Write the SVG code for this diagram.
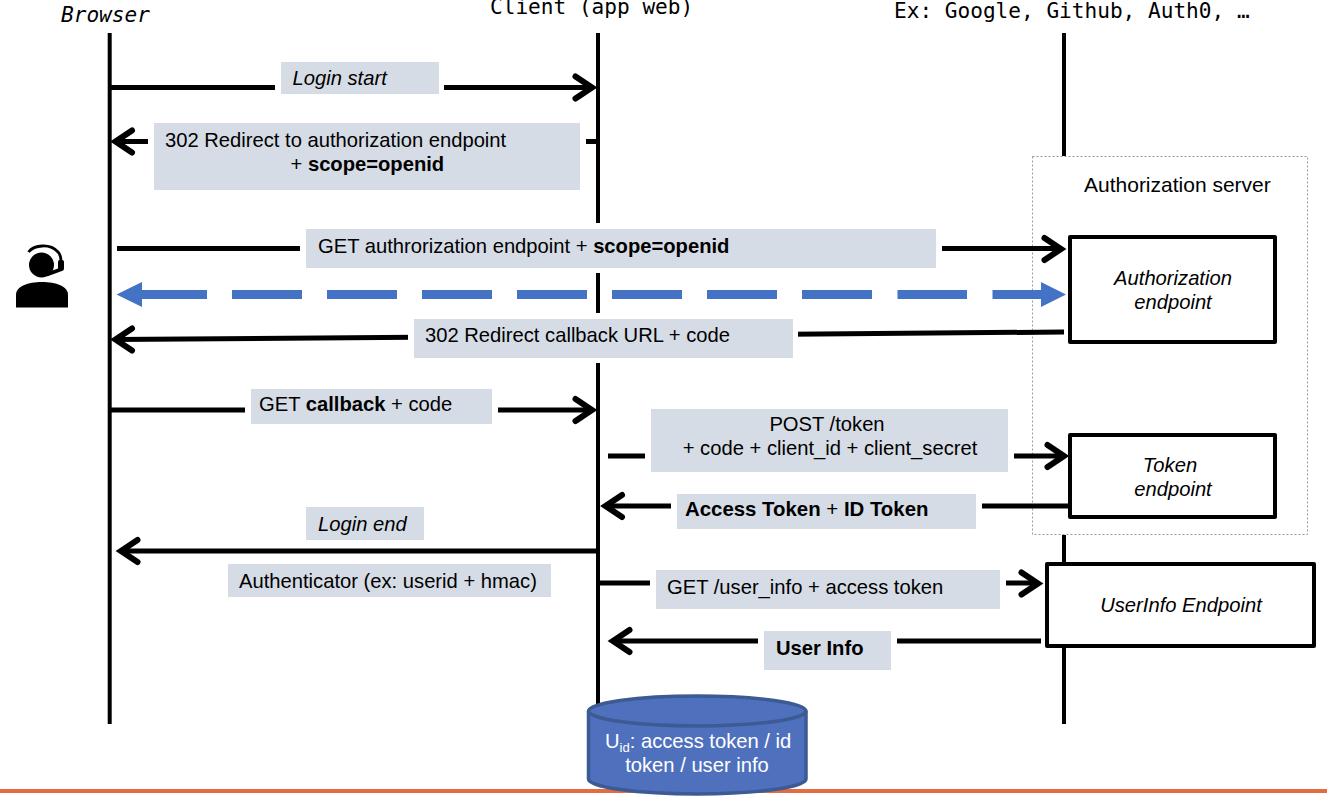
<svg xmlns="http://www.w3.org/2000/svg" width="1327" height="801" viewBox="0 0 1327 801">
<style>
text{font-family:"Liberation Sans",Arial,sans-serif;font-size:20.2px;fill:#000}
.m{font-family:"DejaVu Sans Mono","Liberation Mono",monospace;font-size:21.1px}
.i{font-style:italic}
.b{font-weight:bold}
.c{text-anchor:middle}
.l{fill:#d6dce5}
.w{stroke:#000;stroke-width:5;fill:none}
.life{stroke:#000;stroke-width:4;fill:none}
.h{stroke:#000;stroke-width:6;fill:none;stroke-linecap:round;stroke-linejoin:miter;stroke-miterlimit:10}
.box{fill:#fff;stroke:#000;stroke-width:4;stroke-linejoin:round}
</style>
<defs>
<path id="ah" class="h" d="M-21.500-11L-5 0L-21.500 11"/>
</defs>
<rect width="1327" height="801" fill="#fff"/>
<g id="lifelines">
<line class="life" x1="109.700" y1="33" x2="109.700" y2="724"/>
<line class="life" x1="598" y1="33" x2="598" y2="710"/>
<line class="life" x1="1064" y1="33" x2="1064" y2="156"/>
<line class="life" x1="1064" y1="535" x2="1064" y2="724"/>
</g>
<g id="bottom-rule"><rect x="0" y="789" width="1327" height="4" fill="#e46c42"/></g>
<g id="headers">
<text class="m i" x="61" y="22">Browser</text>
<text class="m" x="490" y="14">Client (app web)</text>
<text class="m" x="894" y="18">Ex: Google, Github, Auth0, …</text>
</g>
<g id="authorization-server">
<rect x="1032.500" y="156.500" width="275" height="378" fill="#fff" stroke="#9a9a9a" stroke-width="1" stroke-dasharray="2 2"/>
<text x="1084" y="192" style="font-size:21px">Authorization server</text>
</g>
<g id="connectors">
<path class="w" d="M110 87.500H592"/><use href="#ah" transform="translate(597 87.500)"/>
<path class="w" d="M115 141.500H598"/><use href="#ah" transform="translate(110.500 141.500) scale(-1 1)"/>
<path class="w" d="M117 248.500H1061"/><use href="#ah" transform="translate(1066 249)"/>
<path class="w" d="M115 339.500L1064 332"/><use href="#ah" transform="translate(110.500 339.500) scale(-1 1)"/>
<path class="w" d="M110 410H592"/><use href="#ah" transform="translate(597 410)"/>
<path class="w" d="M608 456H1064"/><use href="#ah" transform="translate(1069 456)"/>
<path class="w" d="M605 506H1069"/><use href="#ah" transform="translate(600.500 506) scale(-1 1)"/>
<path class="w" d="M121 551H598"/><use href="#ah" transform="translate(116 551) scale(-1 1)"/>
<path class="w" d="M598 583H1038"/><use href="#ah" transform="translate(1043 583.500)"/>
<path class="w" d="M613 641H1041"/><use href="#ah" transform="translate(608 641) scale(-1 1)"/>
<path d="M136 294.500h71M232 294.500h70M327 294.500h70M422 294.500h70M517 294.500h70M612 294.500h70M707 294.500h70M802 294.500h70M897.500 294.500h69.500M992.500 294.500h50" stroke="#4472c4" stroke-width="9" fill="none"/>
<path d="M116.500 294.500l25.500-12.500v25zM1066 294.500l-25-12.500v25z" fill="#4472c4"/>
</g>
<g id="msg-login-start"><rect x="275" y="60" width="169" height="36" fill="#fff"/><rect class="l" x="281" y="62" width="158" height="32"/><text class="i" x="292.500" y="85">Login start</text></g>
<g id="msg-redirect"><rect x="148" y="121" width="438" height="71" fill="#fff"/><rect class="l" x="154" y="123" width="426" height="67"/><text x="165" y="147">302 Redirect to authorization endpoint</text><text x="290.500" y="171">+ <tspan class="b">scope=openid</tspan></text></g>
<g id="msg-get-auth"><rect x="300" y="223" width="642" height="50" fill="#fff"/><rect class="l" x="306" y="229" width="630" height="39"/><text x="318" y="253">GET authrorization endpoint + <tspan class="b">scope=openid</tspan></text></g>
<g id="msg-callback-url"><rect x="408" y="313" width="390" height="50" fill="#fff"/><rect class="l" x="414" y="319" width="379" height="39"/><text x="425" y="342">302 Redirect callback URL + code</text></g>
<g id="msg-get-callback"><rect x="245" y="387" width="253" height="39" fill="#fff"/><rect class="l" x="251" y="389" width="241" height="35"/><text x="259" y="411">GET <tspan class="b">callback</tspan> + code</text></g>
<g id="msg-post-token"><rect x="645" y="407" width="369" height="67" fill="#fff"/><rect class="l" x="651" y="409" width="357" height="63"/><text class="c" x="827" y="431">POST /token</text><text class="c" x="830" y="455">+ code + client_id + client_secret</text></g>
<g id="msg-tokens"><rect x="671" y="492" width="311" height="39" fill="#fff"/><rect class="l" x="677" y="494" width="299" height="35"/><text x="685" y="516" style="font-size:20.400px"><tspan class="b">Access Token</tspan> + <tspan class="b">ID Token</tspan></text></g>
<g id="msg-login-end"><rect class="l" x="306" y="507" width="118" height="33"/><text class="i" x="318" y="531">Login end</text></g>
<g id="msg-authenticator"><rect class="l" x="228" y="564" width="323" height="33"/><text x="239" y="588">Authenticator (ex: userid + hmac)</text></g>
<g id="msg-userinfo"><rect x="650" y="568" width="356" height="43" fill="#fff"/><rect class="l" x="656" y="570" width="344" height="39"/><text x="667" y="594">GET /user_info + access token</text></g>
<g id="msg-userinfo-res"><rect x="758" y="629" width="139" height="43" fill="#fff"/><rect class="l" x="764" y="631" width="127" height="39"/><text class="b" x="776" y="655">User Info</text></g>
<g id="authorization-endpoint"><rect class="box" x="1070" y="237" width="205" height="105"/><text class="c i" x="1173" y="285">Authorization</text><text class="c i" x="1173" y="309">endpoint</text></g>
<g id="token-endpoint"><rect class="box" x="1070" y="435" width="205" height="82"/><text class="c i" x="1170" y="472">Token</text><text class="c i" x="1173" y="496">endpoint</text></g>
<g id="userinfo-endpoint"><rect class="box" x="1047" y="564" width="267" height="82"/><text class="c i" x="1181" y="612">UserInfo Endpoint</text></g>
<g id="user-icon">
<path d="M16 307.500V295C16 286 28 282 42 282C56 282 68 286 68 295V307.500z" fill="#000"/>
<circle cx="41.500" cy="265" r="12.500" fill="#000"/>
<path d="M28.500 252C34 245 50 243 58 252C60 254 61 257 61 261" fill="none" stroke="#000" stroke-width="2.800"/>
<path d="M47 274.500L62 269" fill="none" stroke="#000" stroke-width="3.500" stroke-linecap="round"/>
<rect x="58" y="260" width="6" height="10" rx="2" fill="#000"/>
</g>
<g id="database">
<path d="M588.500 711A108.750 15 0 0 1 806 711V779A108.750 15 0 0 1 588.500 779z" fill="#4f71bd" stroke="#3c5a94" stroke-width="3.500"/>
<path d="M588.500 711A108.750 15 0 0 0 806 711" fill="none" stroke="#3c5a94" stroke-width="3.500"/>
<text x="605" y="748" style="fill:#fff">U<tspan style="font-size:13px" dy="4">id</tspan><tspan dy="-4">: access token / id</tspan></text>
<text class="c" x="697" y="772" style="fill:#fff">token / user info</text>
</g>
</svg>
